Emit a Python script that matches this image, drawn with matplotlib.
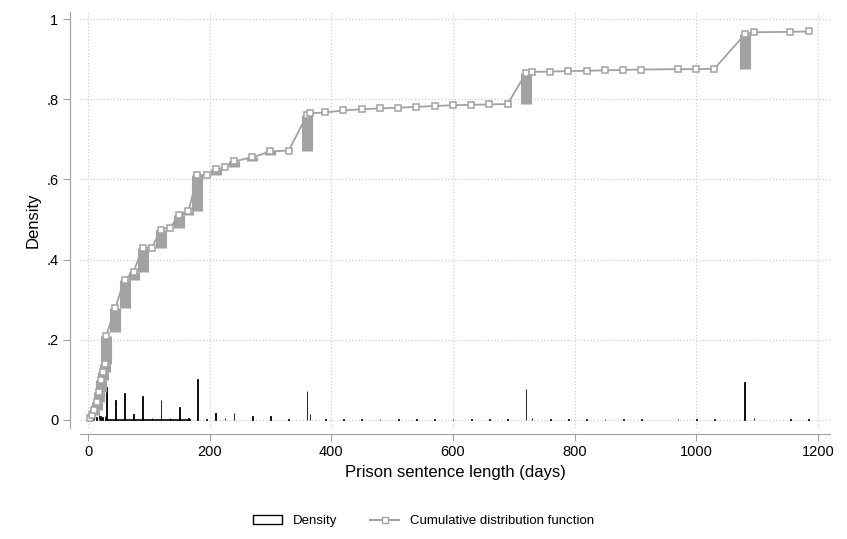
import numpy as np
import matplotlib.pyplot as plt
from matplotlib.patches import Patch
from matplotlib.lines import Line2D

# CDF: sentence value, cdf just before the value, cdf at the value
cdf_x = [3, 7, 10, 14, 18, 21, 24, 28, 30, 45, 60, 75, 90, 105, 120, 135, 150, 165, 180, 195,
         210, 225, 240, 270, 300, 330, 360, 365, 390, 420, 450, 480, 510, 540, 570, 600,
         630, 660, 690, 720, 730, 760, 790, 820, 850, 880, 910, 970, 1000, 1030, 1080, 1095,
         1155, 1185]
cdf_lo = [0.0, 0.005, 0.012, 0.025, 0.045, 0.07, 0.10, 0.12, 0.14, 0.22, 0.28, 0.35, 0.37, 0.43, 0.43, 0.475, 0.48, 0.51, 0.52, 0.61,
          0.612, 0.625, 0.63, 0.645, 0.66, 0.67, 0.672, 0.76, 0.765, 0.767, 0.772, 0.775, 0.777, 0.779, 0.781, 0.783,
          0.785, 0.786, 0.787, 0.788, 0.865, 0.868, 0.869, 0.870, 0.871, 0.872, 0.873, 0.874, 0.875, 0.875, 0.876, 0.962,
          0.967, 0.968]
cdf_hi = [0.005, 0.012, 0.025, 0.045, 0.07, 0.10, 0.12, 0.14, 0.21, 0.28, 0.35, 0.37, 0.43, 0.43, 0.475, 0.48, 0.51, 0.52, 0.61, 0.612,
          0.625, 0.63, 0.645, 0.655, 0.67, 0.672, 0.76, 0.765, 0.767, 0.772, 0.775, 0.777, 0.779, 0.781, 0.783, 0.785,
          0.786, 0.787, 0.788, 0.865, 0.868, 0.869, 0.870, 0.871, 0.872, 0.873, 0.874, 0.875, 0.875, 0.876, 0.962, 0.967,
          0.968, 0.969]

# Density spikes
dens_x = cdf_x
dens_y = [0.004, 0.006, 0.01, 0.008, 0.012, 0.01, 0.008, 0.01, 0.083, 0.05, 0.067, 0.015, 0.06, 0.004, 0.05, 0.004, 0.033, 0.004, 0.102, 0.003,
          0.018, 0.004, 0.018, 0.01, 0.01, 0.003, 0.073, 0.015, 0.003, 0.003, 0.003, 0.003, 0.003, 0.003, 0.003, 0.003,
          0.003, 0.003, 0.003, 0.078, 0.004, 0.003, 0.003, 0.003, 0.003, 0.003, 0.003, 0.003, 0.003, 0.003, 0.094, 0.004,
          0.003, 0.003]

grey = '#a2a2a2'
plt.rcParams['font.family'] = ['Liberation Sans', 'DejaVu Sans']

fig = plt.figure(figsize=(8.47, 5.39), dpi=100)
ax = fig.add_axes([80 / 847, 1 - 428 / 539, 750 / 847, 416 / 539])

ax.bar(dens_x, dens_y, width=1.2, color='black', edgecolor='black', linewidth=0.6, zorder=2)
ax.hlines(0.001, 28, 170, color='black', linewidth=1.2, zorder=2)

# jumps in the CDF drawn as thick stacks of markers
jump = [(x, lo, hi) for x, lo, hi in zip(cdf_x, cdf_lo, cdf_hi) if hi - lo > 0.008]
ax.vlines([j[0] for j in jump], [j[1] for j in jump], [j[2] for j in jump],
          color=grey, linewidth=8, zorder=3)
ax.plot(cdf_x, cdf_hi, color=grey, linewidth=1.3, marker='s', markersize=5,
        markerfacecolor='white', markeredgecolor=grey, markeredgewidth=1.1, zorder=4)

ax.set_xlim(-13.2, 1220)
ax.set_ylim(-0.02, 1.0175)
ax.set_xticks([0, 200, 400, 600, 800, 1000, 1200])
ax.set_yticks([0, 0.2, 0.4, 0.6, 0.8, 1.0])
ax.set_yticklabels(['0', '.2', '.4', '.6', '.8', '1'])
ax.tick_params(labelsize=10.5, length=5, color=grey)
ax.grid(True, color='#d0d0d0', linestyle=':', linewidth=0.9)
ax.set_axisbelow(True)
for s in ['top', 'right']:
    ax.spines[s].set_visible(False)
for s in ['left', 'bottom']:
    ax.spines[s].set_color(grey)
ax.spines['left'].set_position(('outward', 7))
ax.spines['bottom'].set_position(('outward', 4))
ax.set_xlabel('Prison sentence length (days)', fontsize=12)
ax.set_ylabel('Density', fontsize=12)

handles = [Patch(facecolor='white', edgecolor='black', label='Density'),
           Line2D([], [], color=grey, marker='s', markerfacecolor='white', markersize=5,
                  label='Cumulative distribution function')]
fig.legend(handles=handles, loc='center', bbox_to_anchor=(0.5, 1 - 521 / 539), ncol=2,
           frameon=False, fontsize=9.5, handlelength=2.2, columnspacing=2.5)

fig.savefig('out.png', dpi=100)
